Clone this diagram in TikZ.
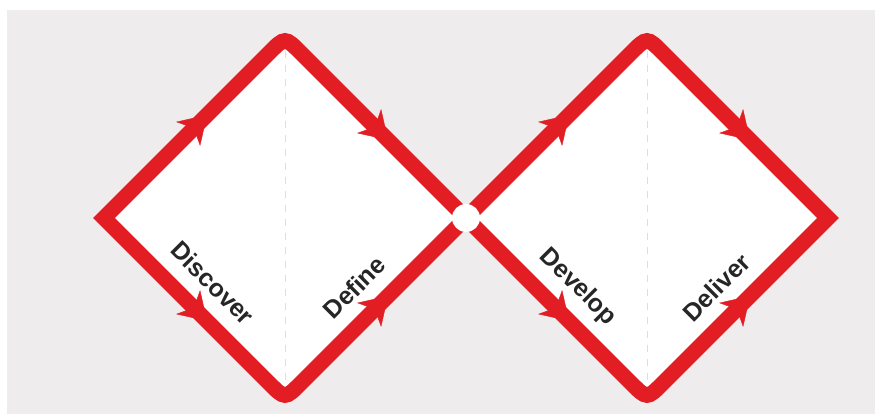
\documentclass[tikz,border=0pt]{standalone}
\usepackage{fontspec}
\setmainfont{Liberation Sans}
\usetikzlibrary{arrows.meta,calc,decorations.markings}

\definecolor{dvred}{RGB}{226,29,36}
\definecolor{dvbg}{RGB}{238,236,237}
\definecolor{dvtxt}{RGB}{38,38,38}
\definecolor{dvdash}{RGB}{222,222,224}

\begin{document}
\begin{tikzpicture}[
  x=1pt, y=1pt,
  outline/.style={draw=dvred,line width=15.5pt,line join=miter},
  inside/.style={fill=white},
  midline/.style={draw=dvdash,line width=1pt,dash pattern=on 7pt off 7pt},
  flow/.style={postaction={decorate},decoration={markings,
    mark=at position 0.57 with {\arrow[dvred]{Stealth[length=27pt,width=34pt,inset=8pt]}}}},
  phase/.style={font=\bfseries\fontsize{25}{30}\selectfont,text=dvtxt,inner sep=0pt},
  hub/.style={circle,fill=white,minimum size=28pt,inner sep=0pt},
]
% frame
\useasboundingbox[fill=white] (0,0) rectangle (875,414);
\fill[dvbg] (7,0) rectangle (875,404);

% corners of the two diamonds
\coordinate (L)  at (104,196);
\coordinate (T1) at (285,377);
\coordinate (B1) at (285,15);
\coordinate (X)  at (466,196);
\coordinate (T2) at (647,377);
\coordinate (B2) at (647,15);
\coordinate (R)  at (828,196);

% ---- white faces and dashed middles ----
\foreach \w/\t/\e/\b in {L/T1/X/B1, X/T2/R/B2}{
  \path[inside] (\w) -- (\t) -- (\e) -- (\b) -- cycle;
  \draw[midline] (\t) -- (\b);
}

% ---- red loops, rounded at top and bottom ----
\foreach \w/\t/\e/\b in {L/T1/X/B1, X/T2/R/B2}{
  \draw[outline] (\w) -- ($(\t)!22pt!(\w)$) .. controls (\t) .. ($(\t)!22pt!(\e)$)
    -- (\e) -- ($(\b)!22pt!(\e)$) .. controls (\b) .. ($(\b)!22pt!(\w)$) -- cycle;
}

% arrowheads on every edge
\foreach \a/\c in {L/T1, T1/X, L/B1, B1/X, X/T2, T2/R, X/B2, B2/R}
  \path[flow] (\a) -- (\c);

% crossing point
\node[hub] (mid) at (X) {};

% ---- phase labels ----
\node[phase,rotate=-45] (disc) at ($(L)!0.48!(B1)!31pt!90:(B1)$) {Discover};
\node[phase,rotate=45]  (defi) at ($(B1)!0.5!(X)!30pt!90:(X)$) {Define};
\node[phase,rotate=-45] (deve) at ($(X)!0.5!(B2)!30pt!90:(B2)$) {Develop};
\node[phase,rotate=45]  (deli) at ($(B2)!0.5!(R)!30pt!90:(R)$) {Deliver};
\end{tikzpicture}
\end{document}
